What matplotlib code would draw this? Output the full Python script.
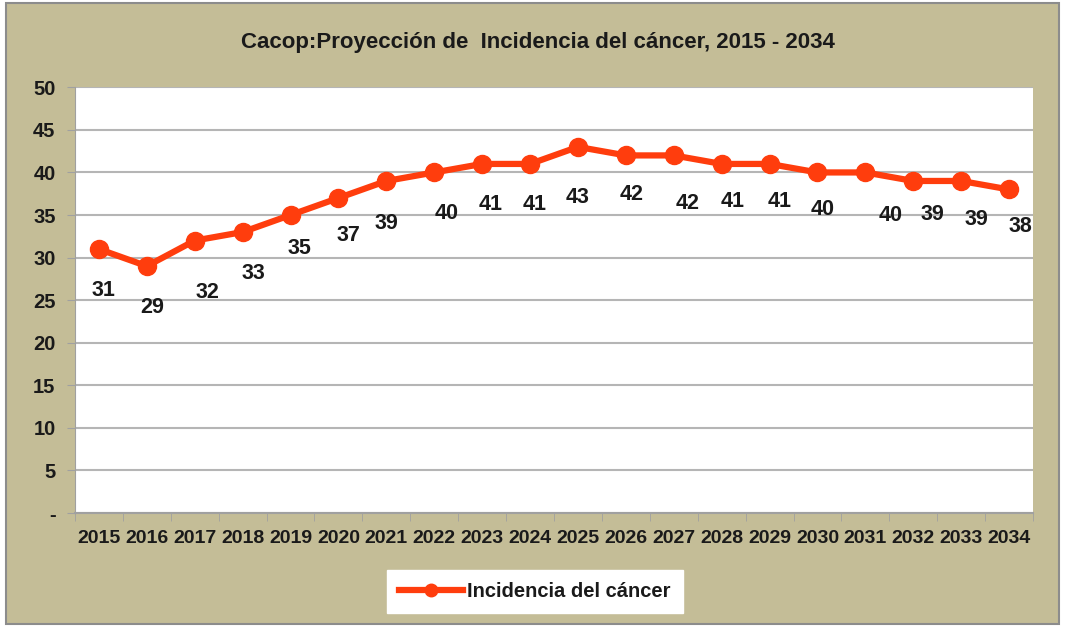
import matplotlib.pyplot as plt
from matplotlib.patches import Rectangle

years = [str(y) for y in range(2015, 2035)]
incidencia = [31, 29, 32, 33, 35, 37, 39, 40, 41, 41, 43, 42, 42, 41, 41, 40, 40, 39, 39, 38]

# label offsets in pixels (dx, dy below the point)
offs = [(5, 41), (5, 41), (13, 52), (11, 41), (9, 33), (10, 38), (0, 43), (12, 41),
        (8, 41), (5, 41), (0, 51), (6, 39), (14, 48), (11, 38), (10, 38), (5, 37),
        (25, 43), (19, 34), (15, 39), (11, 37)]

plt.rcParams['font.family'] = ['Liberation Sans Narrow', 'Liberation Sans', 'DejaVu Sans']
tan = '#c4bd97'
red = '#ff3d0d'

fig = plt.figure(figsize=(10.65, 6.28), dpi=100, facecolor='white')
fig.patches.append(Rectangle((0.006, 0.006), 0.988, 0.99, transform=fig.transFigure,
                             facecolor=tan, edgecolor='#8c8c8c', lw=1.5, zorder=-1))
ax = fig.add_axes([0.0704, 0.183, 0.8996, 0.678])
ax.set_facecolor('white')

x = list(range(len(years)))
ax.plot(x, incidencia, color=red, lw=4.5, marker='o', ms=13,
        label='Incidencia del cáncer', zorder=3)

for xi, v, (dx, dy) in zip(x, incidencia, offs):
    ax.annotate(str(v), (xi, v), xytext=(dx * 0.72, -dy * 0.72), textcoords='offset points',
                ha='center', va='center', fontsize=15.5, fontweight='bold', color='#1a1a1a')

ax.set_xlim(-0.5, len(years) - 0.5)
ax.set_ylim(0, 50)
ax.set_yticks(range(0, 51, 5))
ax.set_yticklabels(['-'] + [str(v) for v in range(5, 51, 5)])
ax.set_xticks(x)
ax.set_xticklabels(years)
ax.set_xticks([i - 0.5 for i in range(len(years) + 1)], minor=True)
ax.tick_params(axis='x', which='major', length=0, pad=12, labelsize=14)
ax.tick_params(axis='x', which='minor', length=6, color='#a0a0a0', direction='out')
ax.tick_params(axis='y', length=6, color='#a0a0a0', pad=8, labelsize=14.5)
for lab in ax.get_xticklabels() + ax.get_yticklabels():
    lab.set_fontweight('bold')
    lab.set_color('#1a1a1a')

ax.grid(axis='y', color='#b5b5b5', lw=1.5)
ax.set_axisbelow(True)
for s in ['top', 'right']:
    ax.spines[s].set_visible(False)
ax.spines['left'].set_color('#a0a0a0')
ax.spines['bottom'].set_color('#a0a0a0')
ax.spines['bottom'].set_linewidth(1.5)

fig.text(0.505, 0.933, 'Cacop:Proyección de  Incidencia del cáncer, 2015 - 2034',
         ha='center', va='center', fontsize=16, fontweight='bold', color='#1a1a1a')

leg = fig.legend(loc='center', bbox_to_anchor=(0.502, 0.058), fontsize=14.5,
                 frameon=True, fancybox=False, edgecolor='white', framealpha=1,
                 handlelength=3.2, borderpad=0.6, handletextpad=0.2)
leg.get_frame().set_facecolor('white')
for t in leg.get_texts():
    t.set_fontweight('bold')
    t.set_color('#1a1a1a')
for h in leg.legend_handles:
    h.set_markersize(9)

fig.savefig('out.png', dpi=100, facecolor=fig.get_facecolor())
